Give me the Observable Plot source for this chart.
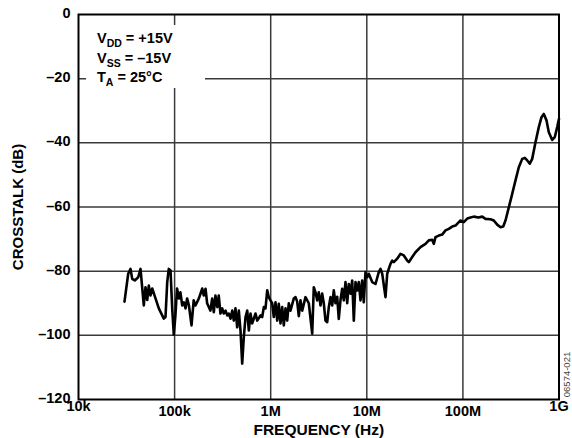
<!DOCTYPE html>
<html>
<head>
<meta charset="utf-8">
<script src="https://cdn.jsdelivr.net/npm/d3@7"></script>
<script src="https://cdn.jsdelivr.net/npm/@observablehq/plot@0.6"></script>
<style>
  html, body { margin: 0; padding: 0; background: #fff; }
  svg { display: block; }
</style>
</head>
<body>
<div id="chart"></div>
<script>
// Frequency (Hz) and crosstalk (dB)
const freqs = [
  30.1e3, 32.9e3, 34.8e3, 36.2e3, 38.5e3, 41.8e3, 44.2e3, 47.8e3, 49.8e3, 51.9e3,
  53.9e3, 56.1e3, 58.5e3, 63.3e3, 68.5e3, 77.2e3, 80.4e3, 83.8e3, 87.0e3, 90.7e3,
  94.4e3, 98.1e3, 102e3, 106e3, 111e3, 115e3, 120e3, 125e3, 130e3, 135e3,
  141e3, 150e3, 158e3, 165e3, 179e3, 194e3, 201e3, 210e3, 218e3, 236e3,
  246e3, 256e3, 266e3, 278e3, 288e3, 300e3, 313e3, 325e3, 339e3, 353e3,
  366e3, 382e3, 398e3, 413e3, 430e3, 448e3, 466e3, 485e3, 505e3, 525e3,
  547e3, 570e3, 592e3, 616e3, 642e3, 695e3, 724e3, 783e3, 816e3, 848e3,
  883e3, 920e3, 955e3, 995e3, 1.036e6, 1.077e6, 1.122e6, 1.169e6, 1.214e6, 1.265e6,
  1.317e6, 1.369e6, 1.426e6, 1.485e6, 1.543e6, 1.607e6, 1.74e6, 1.812e6, 1.887e6, 1.961e6,
  2.042e6, 2.127e6, 2.302e6, 2.492e6, 2.703e6, 2.808e6, 2.925e6, 3.047e6, 3.166e6, 3.297e6,
  3.434e6, 3.568e6, 3.717e6, 3.872e6, 4.023e6, 4.191e6, 4.365e6, 4.535e6, 4.724e6, 4.92e6,
  5.111e6, 5.324e6, 5.546e6, 5.763e6, 6.003e6, 6.253e6, 6.497e6, 6.768e6, 7.05e6, 7.325e6,
  7.63e6, 7.947e6, 8.258e6, 8.6e6, 8.958e6, 9.307e6, 9.694e6, 10.1e6, 10.49e6, 11.38e6,
  12.32e6, 13.33e6, 13.89e6, 14.47e6, 15.65e6, 16.31e6, 16.94e6, 17.64e6, 18.38e6, 19.1e6,
  20.72e6, 22.42e6, 24.27e6, 26.33e6, 27.36e6, 29.68e6, 32.13e6, 36.22e6, 40.82e6, 44.19e6,
  47.92e6, 49.8e6, 51.87e6, 56.14e6, 60.88e6, 65.92e6, 71.34e6, 77.37e6, 83.75e6, 90.65e6,
  94.43e6, 102.2e6, 110.9e6, 120e6, 129.9e6, 145.3e6, 158.8e6, 171.9e6, 193.8e6, 209.7e6,
  227.5e6, 246.2e6, 262.7e6, 277.5e6, 300.4e6, 325.8e6, 352.6e6, 381.7e6, 414.1e6, 440.7e6,
  466.8e6, 496.8e6, 526.1e6, 569.4e6, 616.3e6, 657.5e6, 694.7e6, 741.3e6, 783.4e6, 849.9e6,
  904.5e6, 957.9e6, 1e9
];
const crosstalk = [
  -89.5, -80.8, -79.3, -82.4, -82.9, -81.9, -79.3, -90.7, -85.0, -89.0,
  -84.5, -87.6, -85.4, -88.5, -91.6, -94.8, -94.3, -83.4, -79.3, -79.8,
  -91.6, -99.8, -93.8, -85.4, -88.5, -86.6, -90.7, -89.7, -91.6, -88.5,
  -90.7, -96.9, -89.1, -90.7, -88.5, -85.4, -87.6, -85.5, -90.0, -92.3,
  -88.5, -92.8, -87.6, -91.2, -87.6, -93.2, -91.6, -93.2, -92.3, -93.8,
  -93.2, -94.8, -92.3, -95.4, -91.6, -97.5, -92.3, -98.5, -108.8, -100.6,
  -94.3, -92.3, -98.5, -93.2, -96.3, -93.2, -95.4, -93.8, -94.3, -91.2,
  -91.6, -86.0, -88.1, -89.1, -90.0, -94.3, -89.7, -95.4, -90.2, -96.3,
  -91.2, -96.9, -91.6, -95.4, -90.0, -92.3, -88.5, -88.1, -89.5, -94.0,
  -89.1, -92.3, -88.1, -90.0, -99.5, -85.0, -86.6, -89.1, -86.6, -90.7,
  -87.0, -90.0, -95.4, -95.9, -91.2, -88.1, -90.7, -86.0, -90.0, -88.0,
  -94.9, -89.0, -85.5, -89.1, -83.4, -90.0, -84.0, -87.0, -82.9, -95.4,
  -83.4, -86.0, -83.4, -89.1, -82.9, -89.7, -80.3, -81.9, -80.8, -83.4,
  -84.0, -80.3, -79.3, -80.8, -88.1, -80.8, -79.3, -77.7, -76.7, -77.2,
  -76.1, -74.6, -75.1, -76.7, -77.2, -75.6, -74.1, -72.5, -71.5, -70.4,
  -70.2, -71.5, -69.4, -68.9, -68.6, -67.3, -66.8, -66.1, -65.8, -64.7,
  -64.2, -64.7, -63.6, -63.3, -63.0, -63.3, -63.0, -63.7, -63.8, -64.2,
  -65.5, -66.3, -66.1, -64.2, -60.1, -55.9, -51.7, -47.6, -45.0, -44.7,
  -45.5, -46.5, -45.0, -39.8, -35.1, -32.0, -31.0, -33.0, -36.7, -39.1,
  -38.2, -35.1, -32.5
];

const xTickValues = [1e4, 1e5, 1e6, 1e7, 1e8, 1e9];
const xTickLabels = ["10k", "100k", "1M", "10M", "100M", "1G"];
const yTickValues = [0, -20, -40, -60, -80, -100, -120];
const yTickLabels = ["0", "–20", "–40", "–60", "–80", "–100", "–120"];
const xLabel = "FREQUENCY (Hz)";
const yLabel = "CROSSTALK (dB)";
const conditions = [
  ["V", "DD", " = +15V"],
  ["V", "SS", " = –15V"],
  ["T", "A", " = 25°C"]
];
const figureId = "06574-021";

const data = freqs.map((f, i) => ({f, db: crosstalk[i]}));
const xTicks = xTickValues.map((v, i) => ({v, label: xTickLabels[i], end: i === 0 || i === xTickValues.length - 1}));
const yTicks = yTickValues.map((v, i) => ({v, label: yTickLabels[i]}));

const FONT = "'Liberation Sans', Arial, Helvetica, sans-serif";

const chart = Plot.plot({
  width: 572,
  height: 438,
  marginLeft: 78,
  marginRight: 13.5,
  marginTop: 14,
  marginBottom: 39,
  style: {fontFamily: FONT, fontWeight: "bold", background: "#fff", overflow: "visible"},
  x: {type: "log", domain: [1e4, 1e9], axis: null},
  y: {domain: [-120, 0], axis: null},
  marks: [
    Plot.ruleX(xTickValues.slice(1, -1), {stroke: "#3a3a3a", strokeWidth: 1.5}),
    Plot.ruleY(yTickValues.slice(1, -1), {stroke: "#3a3a3a", strokeWidth: 1.5}),
    Plot.line(data, {x: "f", y: "db", stroke: "#000", strokeWidth: 2.6, strokeLinejoin: "round", strokeLinecap: "round"}),
    Plot.frame({stroke: "#000", strokeWidth: 2}),
    Plot.text(xTicks, {x: "v", y: () => -120, text: "label", fontSize: 14.5, fontWeight: "bold", fill: "#000",
      lineAnchor: "top", filter: d => !d.end, dy: 6}),
    Plot.text(xTicks, {x: "v", y: () => -120, text: "label", fontSize: 14.5, fontWeight: "bold", fill: "#000",
      lineAnchor: "top", filter: d => d.end, dy: 1}),
    Plot.text(yTicks, {x: () => 1e4, y: "v", text: "label", textAnchor: "end", dx: -8, dy: -1, fontSize: 14.5, fontWeight: "bold", fill: "#000"}),
    Plot.text([xLabel], {frameAnchor: "bottom", lineAnchor: "bottom", dy: 35, fontSize: 15.5, fontWeight: "bold", fill: "#000"}),
    Plot.text([yLabel], {frameAnchor: "left", textAnchor: "middle", lineAnchor: "middle", dx: -60, rotate: -90, fontSize: 15, fontWeight: "bold", fill: "#000"}),
    Plot.text([figureId], {frameAnchor: "bottom-right", textAnchor: "middle", lineAnchor: "middle", dx: 8, dy: -25, rotate: -90, fontSize: 9.5, fontWeight: "normal", fill: "#444"})
  ]
});

// Conditions box (white background interrupting the gridlines)
const svg = d3.select(chart);
const g = svg.append("g").attr("font-family", FONT).attr("font-weight", "bold").attr("text-anchor", "start");
g.append("rect").attr("x", 86).attr("y", 25).attr("width", 119).attr("height", 63).attr("fill", "#fff");
conditions.forEach((c, i) => {
  const t = g.append("text").attr("x", 97).attr("y", 43 + i * 19.5).attr("font-size", 14.5).attr("fill", "#000");
  t.append("tspan").text(c[0]);
  t.append("tspan").attr("font-size", 10.5).attr("dy", 4).text(c[1]);
  t.append("tspan").attr("dy", -4).text(c[2]);
});

document.getElementById("chart").appendChild(chart);
</script>
</body>
</html>
